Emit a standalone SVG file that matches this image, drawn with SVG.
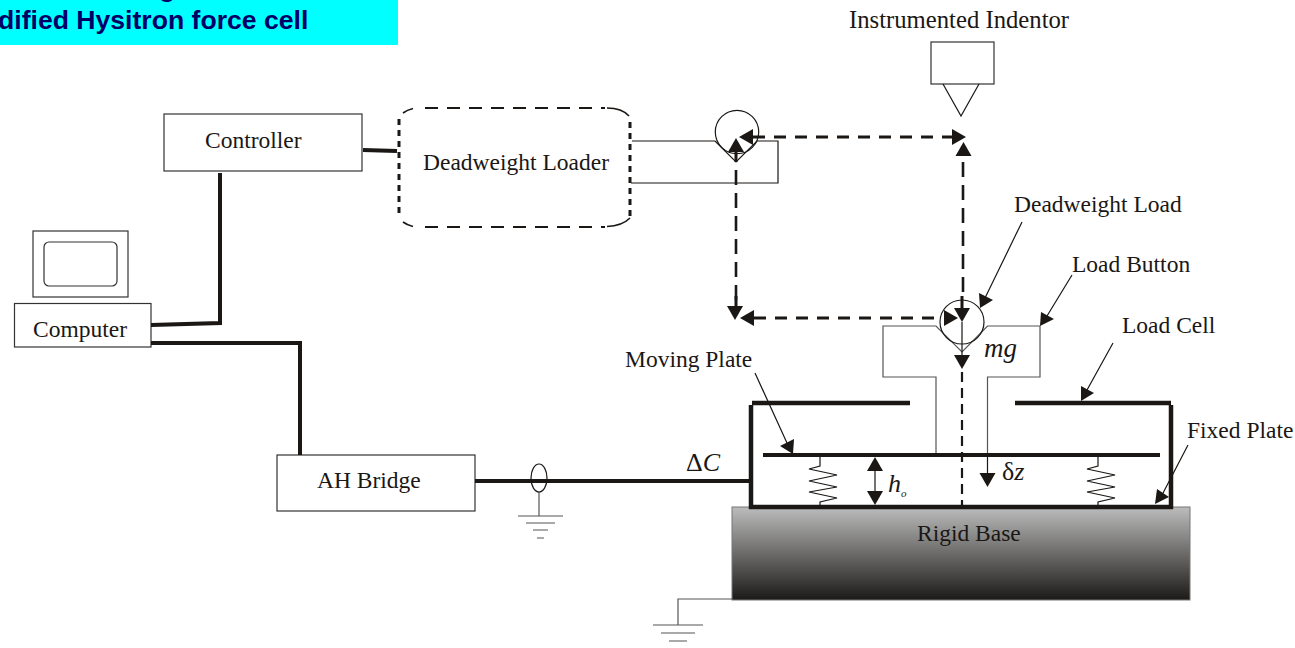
<svg xmlns="http://www.w3.org/2000/svg" width="1295" height="648" viewBox="0 0 1295 648">
<style>
.t{font-family:"Liberation Serif","Times New Roman",serif;font-size:23.5px;fill:#1a1714}
.m{font-size:25.5px}
.i{font-style:italic}
.h{font-family:"Liberation Sans",Arial,sans-serif;font-size:26.6px;font-weight:bold;fill:#000066}
.thin{fill:none;stroke:#1a1714;stroke-width:1.2}
.gr{fill:none;stroke:#555;stroke-width:1.2}
.box{fill:none;stroke:#333;stroke-width:1.2}
.thick{fill:none;stroke:#1a1714;stroke-width:4.500}
.w{fill:none;stroke:#1a1714;stroke-width:4}
.dash{fill:none;stroke:#1a1714;stroke-width:3;stroke-dasharray:12 9}
.dv{fill:none;stroke:#1a1714;stroke-width:2.600;stroke-dasharray:15 8}
.dc{fill:none;stroke:#1a1714;stroke-width:2.200;stroke-dasharray:10 6}
.ls{fill:none;stroke:#1a1714;stroke-width:3;stroke-dasharray:6 5}
.lt{fill:none;stroke:#1a1714;stroke-width:2;stroke-dasharray:13 9}
.ah{fill:#1a1714}
</style>
<defs>
<linearGradient id="g" x1="0" y1="0" x2="0" y2="1"><stop offset="0" stop-color="#bcbcbc"/><stop offset="1" stop-color="#1c1a18"/></linearGradient>
<polygon id="dn" class="ah" points="-8,-14 8,-14 0,0"/>
<polygon id="up" class="ah" points="-8,14 8,14 0,0"/>
<polygon id="lf" class="ah" points="14,-8 14,8 0,0"/>
<polygon id="rt" class="ah" points="-14,-8 -14,8 0,0"/>
<path id="spring" class="thin" d="M0 0V9L-11 12L17 18L-11 24L17 30L-11 35L17 41L0 45V50"/>
</defs>
<g id="title"><rect x="0" y="0" width="398" height="45" fill="#00ffff"/>
<text class="h" x="159" y="-3.500">g</text>
<text class="h" x="-2" y="29">dified Hysitron force cell</text></g>

<g id="rigid-base"><rect x="732" y="507" width="458" height="93" fill="url(#g)" stroke="#777" stroke-width="1"/><text class="t" x="917" y="541">Rigid Base</text></g>
<g id="indentor"><text class="t" style="font-size:24.7px" x="849" y="28">Instrumented Indentor</text>
<rect class="box" x="931" y="42" width="63" height="42"/><path class="thin" d="M943 84L961 116L979 84"/></g>
<g id="controller"><rect class="box" x="164" y="114" width="198" height="57"/><text class="t" x="205" y="148">Controller</text></g>
<g id="loader"><path class="ls" d="M399 119V218M630 122V220"/><path class="lt" d="M425 108H605M425 227H605"/><path class="thin" style="stroke-width:1.6" d="M403 113Q407 110 413 108.500M403 222Q407 225 413 226.500M607 108Q622 108 629 116M607 226.500Q622 226 630 218"/><text class="t" x="423" y="170">Deadweight Loader</text></g>
<g id="computer"><rect class="box" x="33" y="231" width="95" height="66"/><rect class="box" x="44" y="242" width="73" height="44" rx="5"/><rect class="box" x="14.500" y="303.500" width="136.500" height="43.500"/><text class="t" x="33" y="337">Computer</text></g>
<g id="ah-bridge"><rect class="box" x="277" y="455" width="198" height="56"/><text class="t" x="317" y="488">AH Bridge</text></g>
<g id="pivot-top"><path class="thin" d="M632 141H715L736 162L757 141H778V183H631"/><circle class="thin" cx="737" cy="132" r="21.700"/></g>
<g id="load-button"><path class="gr" d="M936 455V377H883V326H936L962 352L987.500 326H1040V377H987.500V455"/><circle class="thin" cx="962" cy="322" r="22"/></g>
<g id="load-cell"><path class="thick" d="M752 403H910M1015 403H1171"/><path class="thick" d="M751 405V509M749 507H1173M1171 405V509"/><path class="w" d="M763 455H1160"/></g>
<g id="springs"><use href="#spring" x="820" y="457"/><use href="#spring" x="1098" y="457"/></g>
<g id="labels">
<text class="t" x="1014" y="212">Deadweight Load</text>
<text class="t" x="1072" y="272">Load Button</text>
<text class="t" x="1122" y="333">Load Cell</text>
<text class="t" x="625" y="367">Moving Plate</text>
<text class="t" x="1187" y="438">Fixed Plate</text>
<text class="t i" style="font-size:27px" x="984" y="357">mg</text>
<text class="t" style="font-size:26px" x="686" y="471">Δ<tspan class="i">C</tspan></text>
<text class="t i" style="font-size:26px" x="888" y="492">h</text><text class="t i" style="font-size:11px" x="901" y="497">o</text>
<text class="t" style="font-size:26px" x="1002" y="480">δ<tspan class="i">z</tspan></text>
</g>
<g id="connectors">
<path class="w" d="M363 150L397 151M220 173V323L151 325M151 343H300V455M475 481H750"/>
<path class="dash" d="M753 137H952M754 318H935"/>
<path class="dv" d="M963 162V300M736 170V300"/>
<path class="dc" d="M962 372V507"/>
<path class="w" style="stroke-width:3" d="M736 150V162M962 296V310M736 296V306"/>
<path class="thin" d="M962 322V358M987.500 455V475M875 465V497"/>
<path class="gr" d="M539 492V516M518 516H563M526 523H555M533 530H548M537 538H544M732 599H678V625M653 625H703M661 633H695M669 641H687"/>
<ellipse class="thin" cx="539" cy="478" rx="8" ry="14"/>
<path class="thin" d="M755 373L787 443M1022 222L985 298M1072 275L1047 316M1113 343L1087 390M1188 445L1162 495"/>
<use href="#lf" x="739" y="137"/><use href="#rt" x="966" y="137"/><use href="#up" x="963.500" y="142"/><use href="#up" x="736" y="138"/><use href="#dn" x="735" y="320"/><use href="#lf" x="740" y="318"/><use href="#rt" x="958" y="318"/><use href="#dn" x="962" y="322"/><use href="#dn" x="962" y="369"/>
<use href="#up" x="875" y="457"/><use href="#dn" x="875" y="505"/><use href="#dn" x="987.500" y="487"/>
<polygon class="ah" points="980,308 979,293 993,300"/>
<polygon class="ah" points="1040,326 1041,312 1054,319"/>
<polygon class="ah" points="1081,401 1081,386 1094,393"/>
<polygon class="ah" points="793,454 780,446 794,439"/>
<polygon class="ah" points="1155,504 1157,489 1169,497"/>
</g>
</svg>
